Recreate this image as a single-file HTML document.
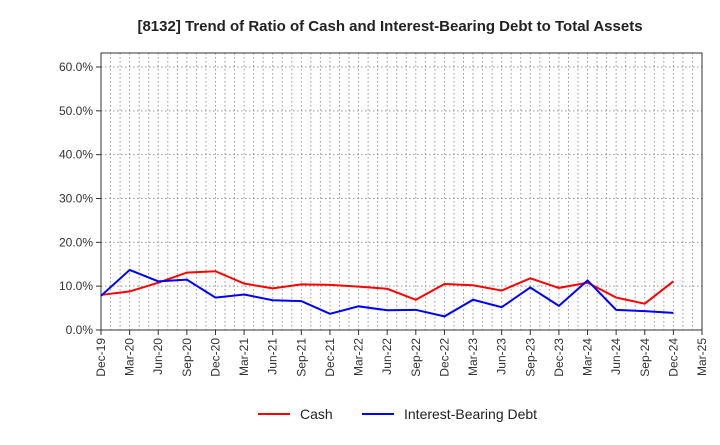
<!DOCTYPE html>
<html><head><meta charset="utf-8"><style>
body{margin:0;background:#fff;font-family:"Liberation Sans",sans-serif}
</style></head><body>
<svg id="c" width="720" height="440" xmlns="http://www.w3.org/2000/svg" style="font-family:'Liberation Sans',sans-serif">
<text x="390" y="31" text-anchor="middle" font-size="15" font-weight="bold" fill="#222">[8132]  Trend of Ratio of Cash and Interest-Bearing Debt to Total Assets</text>
<g id="grid"></g><g id="axes"></g><g id="series"></g>
<g>
<line x1="258" y1="414" x2="290" y2="414" stroke="#f00" stroke-width="2"/>
<text x="300" y="419" font-size="14" fill="#222">Cash</text>
<line x1="362" y1="414" x2="394" y2="414" stroke="#00f" stroke-width="2"/>
<text x="404" y="419" font-size="14" fill="#222">Interest-Bearing Debt</text>
</g>
</svg>
<script>
const categories=["Dec-19","Mar-20","Jun-20","Sep-20","Dec-20","Mar-21","Jun-21","Sep-21","Dec-21","Mar-22","Jun-22","Sep-22","Dec-22","Mar-23","Jun-23","Sep-23","Dec-23","Mar-24","Jun-24","Sep-24","Dec-24","Mar-25"];
const cash=[8.0,8.8,10.8,13.1,13.4,10.6,9.5,10.4,10.3,9.9,9.4,6.9,10.5,10.2,9.0,11.8,9.6,10.8,7.4,6.0,11.1];
const debt=[7.8,13.7,11.1,11.5,7.4,8.1,6.8,6.6,3.7,5.4,4.5,4.6,3.1,6.9,5.2,9.7,5.5,11.3,4.6,4.3,3.9];
const yTicks=[0,10,20,30,40,50,60];
const NS="http://www.w3.org/2000/svg";
const L=101,R=702,T=53,B=330;
const xs=i=>L+i*(R-L)/(categories.length-1);
const ys=v=>B-v*(B-67)/60;
function mk(tag,attrs,parent){const e=document.createElementNS(NS,tag);for(const k in attrs)e.setAttribute(k,attrs[k]);parent.appendChild(e);return e;}
const grid=document.getElementById('grid'),axes=document.getElementById('axes'),ser=document.getElementById('series');
for(let m=1;m<(categories.length-1)*3;m++){const x=L+m*(R-L)/((categories.length-1)*3);
const g=mk('line',{x1:x,y1:T,x2:x,y2:B,stroke:'#999','stroke-dasharray':'1.5,2.5','stroke-width':1},grid);

}
yTicks.forEach(v=>{const y=ys(v);
if(v>0){const g=mk('line',{x1:L,y1:y,x2:R,y2:y,stroke:'#999','stroke-dasharray':'1.5,2.5'},grid);

}
mk('line',{x1:L-5,y1:y,x2:L,y2:y,stroke:'#333'},axes);
const t=mk('text',{x:L-8,y:y+4,'text-anchor':'end','font-size':12,fill:'#333'},axes);t.textContent=v.toFixed(1)+'%';

});
mk('line',{x1:R,y1:T,x2:L,y2:T,stroke:'#999','stroke-dasharray':'1.5,2.5'},grid);
mk('rect',{x:L,y:T,width:R-L,height:B-T,fill:'none',stroke:'#333'},axes);
categories.forEach((c,i)=>{const x=xs(i);
mk('line',{x1:x,y1:B,x2:x,y2:B+5,stroke:'#333'},axes);
const t=mk('text',{x:x+4,y:B+8,'text-anchor':'end','font-size':12,fill:'#333',transform:`rotate(-90 ${x+4} ${B+8})`},axes);t.textContent=c;

});
function line(arr,color,name){const p=mk('polyline',{points:arr.map((v,i)=>xs(i)+','+ys(v)).join(' '),fill:'none',stroke:color,'stroke-width':2},ser);

}
line(cash,'#f00','cash-line');
line(debt,'#00f','debt-line');
</script>
</body></html>
